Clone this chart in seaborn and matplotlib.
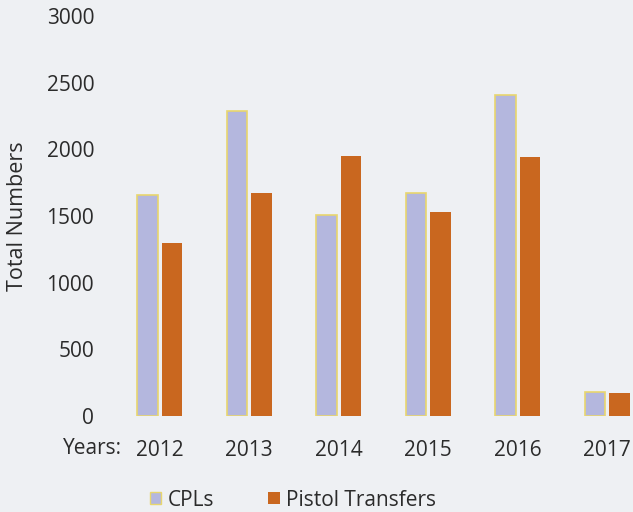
import matplotlib
matplotlib.use("Agg")
import matplotlib.pyplot as plt
import seaborn as sns
import pandas as pd
from matplotlib.patches import Patch

years = ["2012", "2013", "2014", "2015", "2016", "2017"]
cpls = [1660, 2290, 1510, 1670, 2410, 180]
pistol_transfers = [1300, 1670, 1950, 1530, 1940, 175]
series_names = ["CPLs", "Pistol Transfers"]
y_ticks = [0, 500, 1000, 1500, 2000, 2500, 3000]

df = pd.DataFrame({
    "Year": years * 2,
    "Value": cpls + pistol_transfers,
    "Series": [series_names[0]] * len(years) + [series_names[1]] * len(years),
})

sns.set_theme(style="white")
plt.rcParams["font.family"] = ["Open Sans", "DejaVu Sans"]

bg = "#eef0f3"
c_cpl = "#b4b7de"
c_pis = "#c9671f"
edge_cpl = "#e8d66e"
txt = "#2b2b2b"
fs = 15

fig = plt.figure(figsize=(6.33, 5.12), dpi=100, facecolor=bg)
ax = fig.add_axes([115 / 633, 1 - 416 / 512, 537 / 633, 400 / 512])
ax.set_facecolor(bg)

sns.barplot(data=df, x="Year", y="Value", hue="Series", order=years,
            hue_order=series_names, palette=[c_cpl, c_pis],
            width=0.55, gap=0.18, ax=ax, legend=False, saturation=1)

cpl_rgba = matplotlib.colors.to_rgba(c_cpl)
for bar in ax.patches:
    fc = bar.get_facecolor()
    if abs(fc[0] - cpl_rgba[0]) < 0.02:
        bar.set_edgecolor(edge_cpl)
        bar.set_linewidth(1.2)
    else:
        bar.set_edgecolor("none")

ax.set_xlim(-0.5, 5.5)
ax.set_ylim(0, 3000)
ax.set_yticks(y_ticks)
ax.set_yticklabels([str(v) for v in y_ticks])
for s in ax.spines.values():
    s.set_visible(False)
ax.tick_params(axis="both", length=0, labelsize=fs, colors=txt)
ax.tick_params(axis="y", pad=15)
ax.tick_params(axis="x", pad=17)
ax.set_xlabel("")
ax.set_ylabel("Total Numbers", fontsize=fs + 0.5, color=txt)
ax.yaxis.set_label_coords((28 - 115) / 537, 0.5)

fig.text(63 / 633, 1 - 448 / 512, "Years:", fontsize=fs, color=txt,
         ha="left", va="center")

handles = [Patch(facecolor=c_cpl, edgecolor=edge_cpl, linewidth=1.0),
           Patch(facecolor=c_pis, edgecolor="none")]
fig.legend(handles, series_names, loc="center", bbox_to_anchor=(293 / 633, 1 - 500 / 512),
           ncol=2, frameon=False, fontsize=fs, handlelength=0.55, handleheight=0.55,
           handletextpad=0.3, columnspacing=2.6, labelcolor=txt, borderpad=0.2)

fig.savefig("out.png", dpi=100, facecolor=bg)
